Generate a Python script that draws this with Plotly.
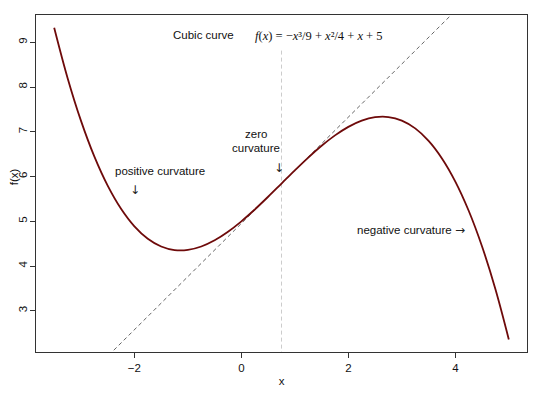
import plotly.graph_objects as go

# Curve samples of f(x) = -x^3/9 + x^2/4 + x + 5 (read at 0.25 steps)
curve_x = [-3.5, -3.25, -3.0, -2.75, -2.5, -2.25, -2.0, -1.75, -1.5, -1.25, -1.0, -0.75,
           -0.5, -0.25, 0.0, 0.25, 0.5, 0.75, 1.0, 1.25, 1.5, 1.75, 2.0, 2.25, 2.5, 2.75,
           3.0, 3.25, 3.5, 3.75, 4.0, 4.25, 4.5, 4.75, 5.0]
curve_y = [9.3264, 8.2048, 7.25, 6.4514, 5.7986, 5.2813, 4.8889, 4.6111, 4.4375, 4.3576,
           4.3611, 4.4375, 4.5764, 4.7674, 5.0, 5.2639, 5.5486, 5.8438, 6.1389, 6.4236,
           6.6875, 6.9201, 7.1111, 7.25, 7.3264, 7.3299, 7.25, 7.0764, 6.7986, 6.4063,
           5.8889, 5.2361, 4.4375, 3.4826, 2.3611]

# Tangent line at inflection point
tangent_x = [-3.5, 5.0]
tangent_y = [0.7969, 10.8906]

# Vertical line at inflection x
vline_x = [0.75, 0.75]
vline_y = [2.0, 8.85]

x_ticks = [-2, 0, 2, 4]
y_ticks = [3, 4, 5, 6, 7, 8, 9]

fig = go.Figure()
fig.add_trace(go.Scatter(x=tangent_x, y=tangent_y, mode="lines",
                         line=dict(color="#555555", width=0.9, dash="4px,3px"),
                         hoverinfo="skip"))
fig.add_trace(go.Scatter(x=vline_x, y=vline_y, mode="lines",
                         line=dict(color="#cccccc", width=1, dash="4px,3px"),
                         hoverinfo="skip"))
fig.add_trace(go.Scatter(x=curve_x, y=curve_y, mode="lines", line_shape="spline",
                         line=dict(color="#6e0a0a", width=1.8)))

font = dict(family="Liberation Sans, Arial, sans-serif", size=11.5, color="#111111")
arrow_font = dict(family="DejaVu Sans, sans-serif", size=12, color="#222222")

annots = [
    dict(x=-1.53, y=6.12, text="positive curvature", f=font),
    dict(x=-1.985, y=5.69, text="↓", f=arrow_font),
    dict(x=0.27, y=6.94, text="zero", f=font),
    dict(x=0.27, y=6.63, text="curvature", f=font),
    dict(x=0.695, y=6.19, text="↓", f=arrow_font),
    dict(x=3.05, y=4.80, text="negative curvature", f=font),
    dict(x=4.09, y=4.81, text="→", f=arrow_font),
]
for a in annots:
    fig.add_annotation(x=a["x"], y=a["y"], text=a["text"], showarrow=False,
                       xref="x", yref="y", font=a["f"])

fig.add_annotation(x=0.342, y=0.9635, xref="paper", yref="paper", showarrow=False,
                   text="Cubic curve", font=font)
fig.add_annotation(x=0.576, y=0.9635, xref="paper", yref="paper", showarrow=False,
                   text="<i>f</i>(<i>x</i>) = −<i>x</i>³/9 + <i>x</i>²/4 + <i>x</i> + 5",
                   font=dict(family="Liberation Serif, Times New Roman, serif", size=12.5,
                             color="#111111"))
# y-axis title
fig.add_annotation(x=-0.046, y=0.52, xref="paper", yref="paper", showarrow=False,
                   xanchor="center", yanchor="middle",
                   text="f(x)", textangle=-90, font=font)

# Page body has an 8px default margin, so the figure is sized/margined to compensate.
fig.update_layout(
    width=532, height=388,
    margin=dict(l=28, r=13, t=7, b=44),
    paper_bgcolor="white", plot_bgcolor="white",
    showlegend=False,
    font=font,
)
fig.update_xaxes(range=[-3.84, 5.34], tickvals=x_ticks, showgrid=False, zeroline=False,
                 showline=True, linecolor="#333333", linewidth=1, mirror=True,
                 ticks="outside", ticklen=5, tickcolor="#333333", automargin=False,
                 title=dict(text="x", standoff=4, font=font))
fig.update_yaxes(range=[2.08, 9.61], tickvals=y_ticks, showgrid=False, zeroline=False,
                 showline=True, linecolor="#333333", linewidth=1, mirror=True,
                 ticks="outside", ticklen=5, tickcolor="#333333", tickangle=-90,
                 ticklabelstandoff=-2, automargin=False)

fig.write_html("out.html")
